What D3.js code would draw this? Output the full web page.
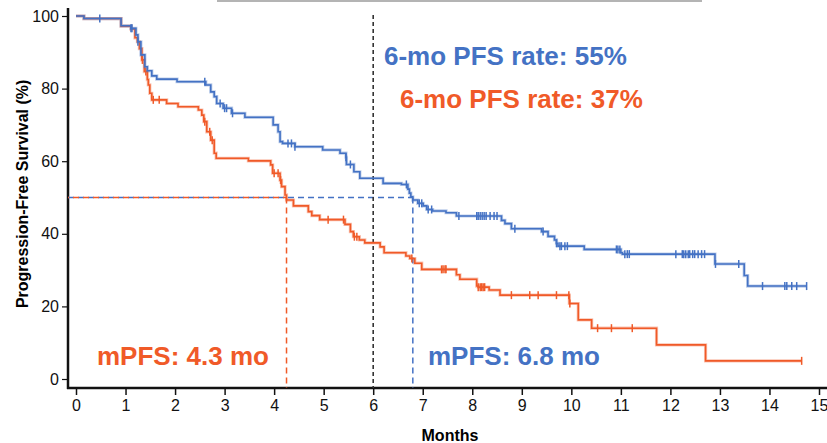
<!DOCTYPE html>
<html>
<head>
<meta charset="utf-8">
<script src="https://cdn.jsdelivr.net/npm/d3@7"></script>
<style>
  body { margin: 0; background: #fff; }
  svg { display: block; }
  .tick text { font-family: "Liberation Sans Narrow", "Arial Narrow", "Liberation Sans", Arial, sans-serif; font-size: 16px; fill: #111; }
</style>
</head>
<body>
<script>
// survival data (months, % PFS)
var blueTimes = [0, 0.16, 0.91, 1.11, 1.21, 1.25, 1.31, 1.39, 1.44, 1.53, 1.63, 2.04, 2.62, 2.72, 2.79, 2.84, 2.97, 3.14, 3.41, 3.98, 4.08, 4.12, 4.17, 4.42, 4.98, 5.33, 5.45, 5.46, 5.61, 5.73, 6.20, 6.57, 6.70, 6.73, 6.76, 6.80, 6.90, 7.01, 7.08, 7.20, 7.47, 7.68, 8.59, 8.66, 8.79, 9.40, 9.53, 9.66, 9.70, 9.73, 10.26, 11.00, 11.03, 12.90, 13.49, 13.56, 14.75];
var blueSurv  = [100, 99.3, 97.3, 96.6, 94.8, 92.9, 89.3, 86.0, 84.9, 83.5, 82.6, 81.9, 81.0, 79.1, 77.8, 75.9, 74.6, 73.2, 72.1, 70.0, 68.1, 65.4, 64.9, 64.0, 63.1, 62.2, 61.1, 59.1, 57.1, 55.3, 53.9, 53.6, 52.3, 51.2, 50.2, 49.3, 48.4, 47.7, 46.7, 46.3, 45.8, 44.9, 43.7, 42.8, 41.4, 40.6, 39.3, 38.3, 37.4, 36.6, 35.7, 34.8, 34.4, 31.7, 28.5, 25.6, 25.6];
var blueCensor = [0.48, 1.11, 1.13, 1.25, 2.60, 2.91, 3.00, 3.04, 3.16, 4.28, 4.35, 4.42, 5.45, 5.54, 6.67, 6.93, 6.98, 7.11, 7.18, 7.73, 8.09, 8.12, 8.16, 8.20, 8.24, 8.28, 8.36, 8.44, 8.50, 8.86, 9.43, 9.70, 9.77, 9.80, 9.87, 9.92, 10.91, 10.94, 10.98, 11.08, 11.13, 11.17, 12.11, 12.24, 12.27, 12.31, 12.36, 12.39, 12.45, 12.49, 12.56, 12.63, 12.69, 12.91, 13.38, 13.86, 14.31, 14.35, 14.45, 14.55, 14.75];

var orangeTimes = [0, 0.16, 0.91, 1.11, 1.19, 1.24, 1.28, 1.33, 1.38, 1.44, 1.46, 1.49, 1.53, 1.83, 2.06, 2.47, 2.54, 2.58, 2.64, 2.72, 2.79, 2.83, 3.48, 3.93, 3.97, 4.12, 4.15, 4.22, 4.25, 4.39, 4.69, 4.76, 4.92, 5.43, 5.54, 5.60, 5.72, 5.83, 6.14, 6.22, 6.66, 6.74, 6.84, 6.98, 7.68, 7.75, 8.09, 8.12, 8.34, 8.56, 9.96, 10.14, 10.41, 11.72, 12.71, 14.65];
var orangeSurv  = [100, 99.3, 97.2, 96.4, 94.0, 92.9, 91.0, 87.9, 84.7, 82.5, 81.0, 78.7, 76.9, 75.9, 75.0, 74.1, 72.7, 70.9, 68.1, 65.8, 62.2, 60.8, 60.1, 59.0, 56.7, 54.8, 53.0, 50.7, 49.3, 47.7, 46.1, 45.0, 43.9, 42.6, 40.6, 39.2, 38.3, 37.5, 36.4, 34.8, 33.9, 33.2, 31.9, 30.2, 28.7, 27.5, 25.6, 25.3, 24.5, 23.1, 20.8, 16.3, 14.0, 9.4, 5.0, 5.0];
var orangeCensor = [1.34, 1.41, 1.56, 1.68, 2.60, 2.70, 2.75, 4.00, 4.08, 4.13, 5.09, 5.40, 5.62, 5.67, 6.78, 7.38, 7.41, 7.45, 7.47, 8.12, 8.16, 8.19, 8.22, 8.25, 8.79, 9.16, 9.33, 9.70, 9.95, 9.97, 10.53, 10.81, 11.23, 14.65];

var xTicks = [0, 1, 2, 3, 4, 5, 6, 7, 8, 9, 10, 11, 12, 13, 14, 15];
var yTicks = [0, 20, 40, 60, 80, 100];

var landmark = 6;                 // 6-month line
var blueMedian = 6.8, orangeMedian = 4.25;
var blueRateLabel = "6-mo PFS rate: 55%";
var orangeRateLabel = "6-mo PFS rate: 37%";
var blueMedLabel = "mPFS: 6.8 mo";
var orangeMedLabel = "mPFS: 4.3 mo";

const width = 827;
const height = 443;
const blue = "#4472c4";
const orange = "#f05a28";
const boldFont = '"Liberation Sans", Arial, sans-serif';

var svg = d3.select("body").append("svg")
    .attr("width", width)
    .attr("height", height);

var x = d3.scaleLinear().domain([0, 15]).range([76, 819]);
var y = d3.scaleLinear().domain([0, 100]).range([379, 16]);
const axisX = 68, axisY = 388;

// faint rule at top (slide residue)
svg.append("line")
    .attr("x1", 217).attr("x2", 702).attr("y1", 1).attr("y2", 1)
    .attr("stroke", "#b4b4b4").attr("stroke-width", 2);

// y axis
var gy = svg.append("g")
    .attr("transform", `translate(${axisX},0)`)
    .call(d3.axisLeft(y).tickValues(yTicks).tickSize(6).tickPadding(3).tickSizeOuter(0));
gy.select(".domain").remove();
gy.selectAll(".tick line").attr("stroke", "#111").attr("stroke-width", 1.2);

// x axis
var gx = svg.append("g")
    .attr("transform", `translate(0,${axisY})`)
    .call(d3.axisBottom(x).tickValues(xTicks).tickSize(7).tickPadding(5).tickSizeOuter(0));
gx.select(".domain").remove();
gx.selectAll(".tick line").attr("stroke", "#111").attr("stroke-width", 1.5);

svg.append("line")
    .attr("x1", axisX).attr("x2", axisX).attr("y1", 8).attr("y2", axisY + 1)
    .attr("stroke", "#111").attr("stroke-width", 2.5);
svg.append("line")
    .attr("x1", axisX - 1).attr("x2", width).attr("y1", axisY).attr("y2", axisY)
    .attr("stroke", "#111").attr("stroke-width", 2.5);

// axis titles
svg.append("text")
    .attr("x", x(7.55)).attr("y", 441)
    .attr("text-anchor", "middle")
    .style("font-family", boldFont).style("font-weight", "bold").style("font-size", "16px")
    .text("Months");

svg.append("text")
    .attr("transform", `translate(28,${y(51)}) rotate(-90)`)
    .attr("text-anchor", "middle")
    .style("font-family", boldFont).style("font-weight", "bold").style("font-size", "16px")
    .text("Progression-Free Survival (%)");

// median reference lines (blue and orange dashes interleave at 50%)
svg.append("line")
    .attr("x1", axisX).attr("x2", x(blueMedian)).attr("y1", y(50)).attr("y2", y(50))
    .attr("stroke", blue).attr("stroke-width", 1.5).attr("stroke-dasharray", "6,4");
svg.append("line")
    .attr("x1", axisX).attr("x2", x(orangeMedian)).attr("y1", y(50)).attr("y2", y(50))
    .attr("stroke", orange).attr("stroke-width", 1.5).attr("stroke-dasharray", "6,4")
    .attr("stroke-dashoffset", 5);
svg.append("line")
    .attr("x1", x(orangeMedian)).attr("x2", x(orangeMedian)).attr("y1", y(50)).attr("y2", axisY)
    .attr("stroke", orange).attr("stroke-width", 1.5).attr("stroke-dasharray", "6,4");
svg.append("line")
    .attr("x1", x(blueMedian)).attr("x2", x(blueMedian)).attr("y1", y(50)).attr("y2", axisY)
    .attr("stroke", blue).attr("stroke-width", 1.5).attr("stroke-dasharray", "6,4");

// 6 month line
svg.append("line")
    .attr("x1", x(landmark)).attr("x2", x(landmark)).attr("y1", 15).attr("y2", axisY)
    .attr("stroke", "#333").attr("stroke-width", 1.6).attr("stroke-dasharray", "4,3");

// KM curves
function drawCurve(times, surv, censor, colour) {
    var pts = times.map((t, i) => [t, surv[i]]);
    var line = d3.line()
        .x(d => x(d[0]))
        .y(d => y(d[1]))
        .curve(d3.curveStepAfter);

    svg.append("path")
        .datum(pts)
        .attr("fill", "none")
        .attr("stroke", colour)
        .attr("stroke-opacity", 0.35)
        .attr("stroke-width", 3.2)
        .attr("d", line);
    svg.append("path")
        .datum(pts)
        .attr("fill", "none")
        .attr("stroke", colour)
        .attr("stroke-width", 1.6)
        .attr("d", line);

    var bis = d3.bisector(d => d).right;
    svg.append("g").selectAll("line")
        .data(censor)
        .enter()
        .append("line")
            .attr("x1", d => x(d)).attr("x2", d => x(d))
            .attr("y1", d => y(surv[Math.max(0, bis(times, d) - 1)]) - 4)
            .attr("y2", d => y(surv[Math.max(0, bis(times, d) - 1)]) + 4)
            .attr("stroke", colour)
            .attr("stroke-width", 1.5);
}

drawCurve(orangeTimes, orangeSurv, orangeCensor, orange);
drawCurve(blueTimes, blueSurv, blueCensor, blue);

// annotations
function note(txt, px, py, colour) {
    svg.append("text")
        .attr("x", px).attr("y", py)
        .style("font-family", boldFont).style("font-weight", "bold").style("font-size", "26px")
        .attr("fill", colour)
        .text(txt);
}
note(blueRateLabel, 384, 65, blue);
note(orangeRateLabel, 400, 108, orange);
note(orangeMedLabel, 97, 365, orange);
note(blueMedLabel, 428, 365, blue);
</script>
</body>
</html>
